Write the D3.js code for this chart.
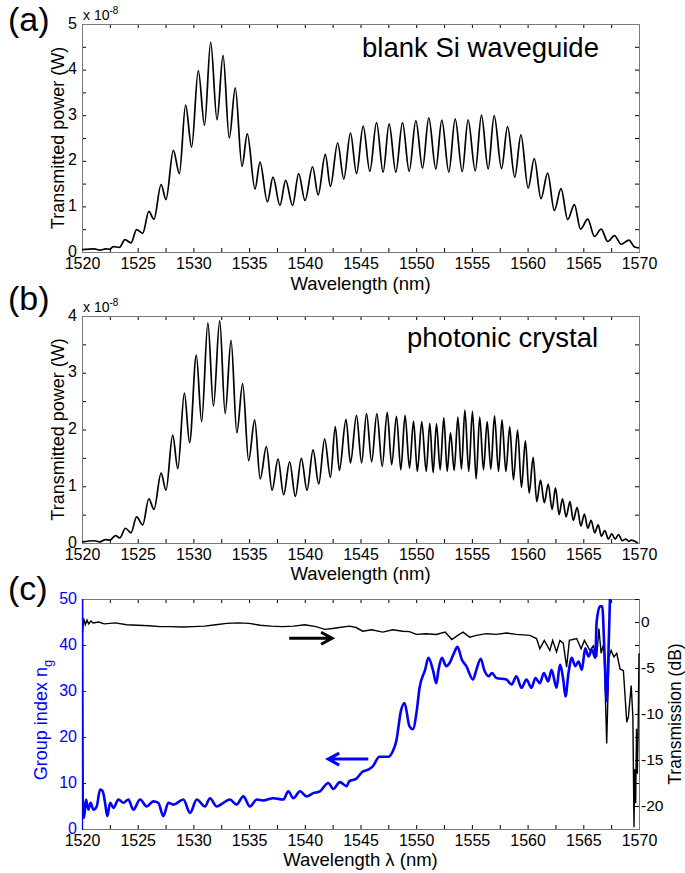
<!DOCTYPE html>
<html><head><meta charset="utf-8">
<script src="https://cdn.jsdelivr.net/npm/d3@7"></script>
<style>
body{margin:0;background:#fff}
svg{display:block}
text{font-family:"Liberation Sans",Arial,Helvetica,sans-serif}
</style>
</head><body>
<svg id="chart" width="685" height="873"></svg>
<script>
// ---------------- DATA ----------------
const wavelengthTicks = [1520,1525,1530,1535,1540,1545,1550,1555,1560,1565,1570];
const powerTicksA = [0,1,2,3,4,5];
const powerTicksB = [0,1,2,3,4];
const groupIndexTicks = [0,10,20,30,40,50];
const transmissionTicks = [-20,-15,-10,-5,0];

// (a) blank Si waveguide: transmitted power (x 1e-8 W), peaks and valleys
const blankWavelength = [1520.0,1521.1,1521.6,1522.15,1522.5,1522.8,1523.35,1523.86,1524.4,1524.9,1525.45,1526.0,1526.46,1527.1,1527.54,1528.2,1528.74,1529.3,1529.84,1530.44,1531.0,1531.55,1532.12,1532.66,1533.22,1533.76,1534.36,1534.84,1535.53,1535.98,1536.64,1537.15,1537.77,1538.28,1538.9,1539.45,1540.02,1540.7,1541.2,1541.84,1542.3,1542.95,1543.5,1544.1,1544.64,1545.24,1545.84,1546.44,1547.03,1547.57,1548.17,1548.77,1549.37,1549.97,1550.57,1551.13,1551.76,1552.3,1552.93,1553.5,1554.13,1554.66,1555.3,1555.86,1556.46,1557.0,1557.66,1558.2,1558.85,1559.4,1560.05,1560.6,1561.2,1561.8,1562.4,1563.0,1563.6,1564.2,1564.75,1565.4,1566.0,1566.6,1567.2,1567.8,1568.4,1569.1,1569.6,1570.0];
const blankPower = [0.05,0.07,0.04,0.07,0.06,0.12,0.10,0.27,0.20,0.49,0.41,0.89,0.72,1.48,1.15,2.23,1.72,3.22,2.30,3.98,2.78,4.60,2.90,4.31,2.50,3.60,1.88,2.59,1.38,1.97,1.10,1.64,1.02,1.57,1.02,1.72,1.13,1.87,1.25,2.14,1.44,2.39,1.60,2.61,1.72,2.76,1.77,2.84,1.75,2.81,1.75,2.84,1.77,2.88,1.84,2.94,1.82,2.89,1.75,2.92,1.76,2.90,1.78,3.00,1.82,2.99,1.83,2.75,1.64,2.57,1.40,2.05,1.17,1.73,0.91,1.39,0.71,1.04,0.50,0.72,0.34,0.50,0.23,0.36,0.17,0.26,0.11,0.09];

// (b) photonic crystal: transmitted power (x 1e-8 W)
const phcWavelength = [1520.0,1521.1,1521.6,1522.1,1522.5,1523.0,1523.4,1523.9,1524.4,1524.9,1525.45,1526.0,1526.46,1527.1,1527.54,1528.14,1528.6,1529.19,1529.66,1530.26,1530.74,1531.3,1531.8,1532.36,1532.85,1533.38,1533.9,1534.42,1534.96,1535.5,1536.0,1536.55,1537.06,1537.6,1538.1,1538.64,1539.15,1539.69,1540.2,1540.74,1541.25,1541.78,1542.3,1542.74,1543.1,1543.7,1544.1,1544.64,1545.1,1545.54,1546.0,1546.47,1546.95,1547.4,1547.8,1548.23,1548.62,1549.0,1549.4,1549.76,1550.1,1550.5,1550.9,1551.22,1551.52,1551.82,1552.15,1552.48,1552.78,1553.08,1553.41,1553.74,1554.06,1554.37,1554.72,1555.05,1555.38,1555.7,1556.04,1556.37,1556.7,1557.03,1557.39,1557.7,1558.05,1558.4,1558.73,1559.1,1559.45,1559.8,1560.14,1560.5,1560.82,1561.16,1561.5,1561.85,1562.2,1562.5,1562.83,1563.13,1563.46,1563.8,1564.1,1564.45,1564.78,1565.1,1565.4,1565.7,1566.03,1566.33,1566.63,1566.93,1567.25,1567.56,1567.86,1568.16,1568.5,1568.8,1569.1,1569.3,1569.9];
const phcPower = [0.02,0.04,0.02,0.06,0.05,0.13,0.09,0.26,0.18,0.46,0.32,0.78,0.59,1.23,0.93,1.90,1.31,2.64,1.77,3.31,2.14,3.88,2.41,3.92,2.28,3.57,1.94,2.81,1.45,2.17,1.13,1.70,0.93,1.48,0.85,1.43,0.82,1.49,0.93,1.64,1.04,1.83,1.16,2.05,1.28,2.18,1.41,2.25,1.41,2.28,1.43,2.28,1.35,2.30,1.38,2.23,1.29,2.25,1.32,2.15,1.26,2.14,1.26,2.11,1.24,2.10,1.29,2.21,1.26,1.94,1.28,2.22,1.30,2.34,1.26,2.32,1.13,2.22,1.29,2.14,1.30,2.24,1.26,2.17,1.26,2.05,1.11,1.99,0.98,1.80,0.88,1.51,0.73,1.11,0.71,1.04,0.59,0.97,0.50,0.78,0.46,0.73,0.40,0.63,0.30,0.51,0.26,0.40,0.18,0.32,0.12,0.22,0.07,0.16,0.07,0.15,0.04,0.07,0.03,0.05,0.00];

// (c) group index n_g (left axis)
const ngWavelength = [1520.0,1520.06,1520.18,1520.36,1520.57,1520.78,1521.02,1521.32,1521.62,1521.86,1522.07,1522.28,1522.52,1522.82,1523.27,1523.72,1524.16,1524.61,1525.21,1525.81,1526.4,1526.85,1527.3,1527.75,1528.2,1529.1,1529.7,1530.3,1531.04,1531.49,1532.09,1532.69,1533.28,1533.88,1534.48,1535.08,1535.68,1536.27,1537.17,1538.07,1538.52,1538.97,1539.57,1540.16,1540.76,1541.36,1542.11,1542.55,1543.15,1543.75,1544.0,1544.6,1545.2,1545.7,1546.1,1546.7,1547.5,1547.9,1548.2,1548.65,1548.95,1549.4,1549.7,1550.06,1550.3,1550.8,1551.1,1551.5,1551.8,1552.0,1552.3,1552.7,1553.0,1553.4,1553.7,1554.1,1554.5,1555.1,1555.4,1555.8,1556.1,1556.5,1556.8,1557.2,1558.1,1558.55,1559.0,1559.45,1559.9,1560.35,1560.7,1561.1,1561.46,1561.85,1562.15,1562.6,1562.9,1563.2,1563.4,1563.67,1563.97,1564.27,1564.57,1564.87,1565.17,1565.47,1565.77,1566.07,1566.2,1566.5,1566.7,1566.9,1567.1,1567.3,1567.45];
const ngValues = [50,7,2.4,6.4,4.2,5.7,4.2,4.9,8.6,8.2,5.7,2.8,5.7,4.6,6.4,5.7,6.4,4.2,6.4,4.9,6.0,5.7,2.8,5.7,5.3,6.4,3.5,6.4,4.9,6.7,4.9,5.7,6.4,5.3,7.1,4.9,6.4,6.2,6.7,6.4,8.2,6.7,8.2,7.1,7.8,8.2,10,8.7,10.2,9.3,10.4,10.9,12.5,12.9,13.6,15.7,15.7,16.9,19,25.9,27.4,22.3,21.7,25.9,30.7,34.6,37.2,34.6,31.7,34.6,37.2,35.4,36.1,38.3,39.6,36.8,35.4,32.5,34.6,37,34.6,33.2,33.9,32.8,32.5,31.4,33.2,30.7,32.5,30.7,32.8,31.7,33.9,32.1,34.6,30.7,35.7,32.5,28.8,33.9,37.2,35.4,36.4,34.6,39.3,37.5,39,37.2,45.1,48.4,48.4,38.3,27.8,41.9,55];

// (c) transmission in dB (right axis)
const transWavelength = [1520.05,1520.15,1520.3,1520.45,1520.6,1520.8,1521.0,1521.5,1522,1523,1524,1525,1526,1527,1528,1529,1530,1531,1532,1533,1534,1535,1536,1537,1538,1539,1540,1541,1541.8,1542.5,1543.1,1544.0,1544.6,1545.2,1546,1547.0,1547.9,1548.8,1549.4,1550.0,1550.9,1551.8,1552.6,1553.2,1553.8,1554.2,1554.8,1555.4,1556.3,1557.2,1558.1,1559.0,1560.2,1560.8,1561.1,1561.5,1562.0,1562.25,1562.6,1562.9,1563.2,1563.5,1563.75,1564.4,1564.8,1565.1,1565.6,1565.9,1566.2,1566.4,1566.6,1566.85,1567.1,1567.3,1567.5,1567.75,1568.0,1568.3,1568.6,1568.9,1569.05,1569.3,1569.45,1569.55,1569.62,1569.7,1569.78,1569.85,1569.92,1570.0];
const transDb = [-1.2,0.4,-0.3,0.2,-0.2,0.1,-0.1,0.0,-0.2,-0.1,-0.3,-0.35,-0.4,-0.5,-0.5,-0.55,-0.5,-0.45,-0.3,-0.15,-0.1,-0.15,-0.35,-0.45,-0.5,-0.45,-0.3,-0.5,-0.8,-0.7,-0.6,-0.45,-0.6,-1.0,-0.85,-1.1,-0.85,-1.0,-1.05,-1.34,-1.27,-1.35,-1.1,-1.9,-1.4,-1.1,-1.65,-1.45,-1.27,-1.35,-1.2,-1.35,-1.45,-1.8,-2.9,-2.0,-3.1,-2.0,-3.26,-2.0,-2.3,-4.9,-2.0,-1.8,-2.9,-2.0,-3.1,-2.6,-3.8,-0.7,-3.4,-2.3,-13.2,-3.8,-3.1,-3.8,-3.4,-5.1,-5.3,-10.9,-10.3,-6.9,-10.3,-22.3,-16,-19.7,-11.6,-16.5,-12,-3.4];

// ---------------- DRAWING ----------------
const svg = d3.select("#chart");
const L = 82, R = 639;
const boxColor = "#7a7a7a";
const blue = "#0000ff";
const x = d3.scaleLinear().domain([1520,1570]).range([L,R]);
const wlMinor = d3.range(1522.5,1570,5);

function styleAxis(sel, color, fs, noLabels){
  sel.select(".domain").remove();
  sel.selectAll(".tick line").attr("stroke", color);
  if (noLabels) { sel.selectAll(".tick text").remove(); return; }
  sel.selectAll(".tick text").attr("fill", color).style("font-size", fs+"px")
     .style("font-family",'"Liberation Sans",Arial,sans-serif');
}

function frame(top, bottom, y, yMajor, yMinor, opts){
  const g = svg.append("g");
  const lc = opts.leftColor || "#000";
  g.append("g").attr("transform",`translate(0,${bottom})`)
    .call(d3.axisBottom(x).tickValues(wavelengthTicks).tickSize(-4).tickPadding(6).tickFormat(d3.format("d")))
    .call(s=>styleAxis(s,"#000",16));
  g.append("g").attr("transform",`translate(0,${bottom})`)
    .call(d3.axisBottom(x).tickValues(wlMinor).tickSize(-4))
    .call(s=>styleAxis(s,"#000",16,true));
  g.append("g").attr("transform",`translate(0,${top})`)
    .call(d3.axisTop(x).tickValues(wavelengthTicks.concat(wlMinor)).tickSize(-4))
    .call(s=>styleAxis(s,"#000",16,true));
  g.append("g").attr("transform",`translate(${L},0)`)
    .call(d3.axisLeft(y).tickValues(yMajor).tickSize(-4).tickPadding(5).tickFormat(d=>String(d)))
    .call(s=>styleAxis(s,lc,16))
    .call(s=>s.selectAll(".tick text").attr("dy","0.25em"));
  if (yMinor.length) g.append("g").attr("transform",`translate(${L},0)`)
    .call(d3.axisLeft(y).tickValues(yMinor).tickSize(-4))
    .call(s=>styleAxis(s,lc,16,true));
  if (!opts.noRight) g.append("g").attr("transform",`translate(${R},0)`)
    .call(d3.axisRight(y).tickValues(yMajor.concat(yMinor)).tickSize(-4))
    .call(s=>styleAxis(s,"#000",16,true));
  g.append("rect").attr("x",L+0.5).attr("y",top+0.5).attr("width",R-L).attr("height",bottom-top)
    .attr("fill","none").attr("stroke",boxColor).attr("stroke-width",1);
  if (opts.leftColor) g.append("line").attr("x1",L+0.5).attr("x2",L+0.5).attr("y1",top).attr("y2",bottom+1)
    .attr("stroke",opts.leftColor).attr("stroke-width",1.3);
  return g;
}

function text(t, x0, y0, size, opts={}){
  const e = svg.append("text").attr("x",x0).attr("y",y0).style("font-size",size+"px")
    .attr("fill",opts.fill||"#000").attr("text-anchor",opts.anchor||"start");
  if (opts.rotate) e.attr("transform",`rotate(-90,${x0},${y0})`);
  e.text(t);
  return e;
}

// ---- panel (a)
{
  const top=24, bottom=252;
  const y = d3.scaleLinear().domain([0,5]).range([bottom,top]);
  frame(top,bottom,y,powerTicksA,d3.range(0.5,5,1),{});
  svg.append("path").datum(d3.zip(blankWavelength,blankPower))
    .attr("fill","none").attr("stroke","#000").attr("stroke-width",1.7)
    .attr("d", d3.line().x(d=>x(d[0])).y(d=>y(d[1])).curve(d3.curveMonotoneX));
  text("blank Si waveguide", 362, 57, 27.5);
  text("(a)", 8, 31, 34);
  text("Transmitted power (W)", 64, (top+bottom)/2, 18, {anchor:"middle",rotate:true});
  text("Wavelength (nm)", (L+R)/2, 290, 18.5, {anchor:"middle"});
  const t = text("x 10", 83, 20, 14);
  t.append("tspan").attr("dy",-6).style("font-size","10px").text("-8");
}

// ---- panel (b)
{
  const top=316, bottom=543;
  const y = d3.scaleLinear().domain([0,4]).range([bottom,top]);
  frame(top,bottom,y,powerTicksB,d3.range(0.5,4,1),{});
  svg.append("path").datum(d3.zip(phcWavelength,phcPower))
    .attr("fill","none").attr("stroke","#000").attr("stroke-width",1.7)
    .attr("d", d3.line().x(d=>x(d[0])).y(d=>y(d[1])).curve(d3.curveMonotoneX));
  text("photonic crystal", 407, 347, 27.5);
  text("(b)", 8, 310, 34);
  text("Transmitted power (W)", 64, (top+bottom)/2, 18, {anchor:"middle",rotate:true});
  text("Wavelength (nm)", (L+R)/2, 580, 18.5, {anchor:"middle"});
  const t = text("x 10", 83, 312, 14);
  t.append("tspan").attr("dy",-6).style("font-size","10px").text("-8");
}

// ---- panel (c)
{
  const top=599, bottom=829;
  const yL = d3.scaleLinear().domain([0,50]).range([bottom,top]);
  const yR = d3.scaleLinear().domain([-22.5,2.5]).range([bottom,top]);
  frame(top,bottom,yL,groupIndexTicks,[],{leftColor:blue,noRight:true});
  const g = svg.append("g");
  g.append("g").attr("transform",`translate(${R},0)`)
    .call(d3.axisRight(yR).tickValues(transmissionTicks).tickSize(-4).tickPadding(2).tickFormat(d=>String(d)))
    .call(s=>styleAxis(s,"#000",15.5));
  g.append("g").attr("transform",`translate(${R},0)`)
    .call(d3.axisRight(yR).tickValues(d3.range(-20,2.6,2.5).filter(v=>v%5!==0)).tickSize(-4))
    .call(s=>styleAxis(s,"#000",16,true));
  svg.append("clipPath").attr("id","clipC").append("rect")
    .attr("x",L).attr("y",top).attr("width",R-L+1).attr("height",bottom-top+1);
  svg.append("path").datum(d3.zip(transWavelength,transDb))
    .attr("clip-path","url(#clipC)")
    .attr("fill","none").attr("stroke","#000").attr("stroke-width",1.4)
    .attr("d", d3.line().x(d=>x(d[0])).y(d=>yR(d[1])));
  svg.append("path").datum(d3.zip(ngWavelength,ngValues))
    .attr("clip-path","url(#clipC)")
    .attr("fill","none").attr("stroke",blue).attr("stroke-width",2.6).attr("stroke-linejoin","round")
    .attr("d", d3.line().x(d=>x(d[0])).y(d=>yL(d[1])).curve(d3.curveMonotoneX));
  const arrowBlackY = yR(-1.77), ax0 = x(1538.6), ax1 = x(1542.45);
  svg.append("path").attr("fill","none").attr("stroke","#000").attr("stroke-width",3)
    .attr("d",`M${ax0},${arrowBlackY}H${ax1}M${ax1-11},${arrowBlackY-6}L${ax1},${arrowBlackY}L${ax1-11},${arrowBlackY+6}`);
  const arrowBlueY = yL(15.2), bx0 = x(1545.7), bx1 = x(1542.1);
  svg.append("path").attr("fill","none").attr("stroke",blue).attr("stroke-width",3)
    .attr("d",`M${bx0},${arrowBlueY}H${bx1}M${bx1+11},${arrowBlueY-6}L${bx1},${arrowBlueY}L${bx1+11},${arrowBlueY+6}`);
  text("(c)", 8, 600, 34);
  const gl = text("Group index n", 47, (top+bottom)/2 + 6, 18, {anchor:"middle",rotate:true,fill:blue});
  gl.append("tspan").attr("dy",5).style("font-size","13px").text("g");
  text("Transmission (dB)", 681, (top+bottom)/2, 17.5, {anchor:"middle",rotate:true});
  text("Wavelength λ (nm)", (L+R)/2, 866, 18.5, {anchor:"middle"});
}
</script>
</body></html>
